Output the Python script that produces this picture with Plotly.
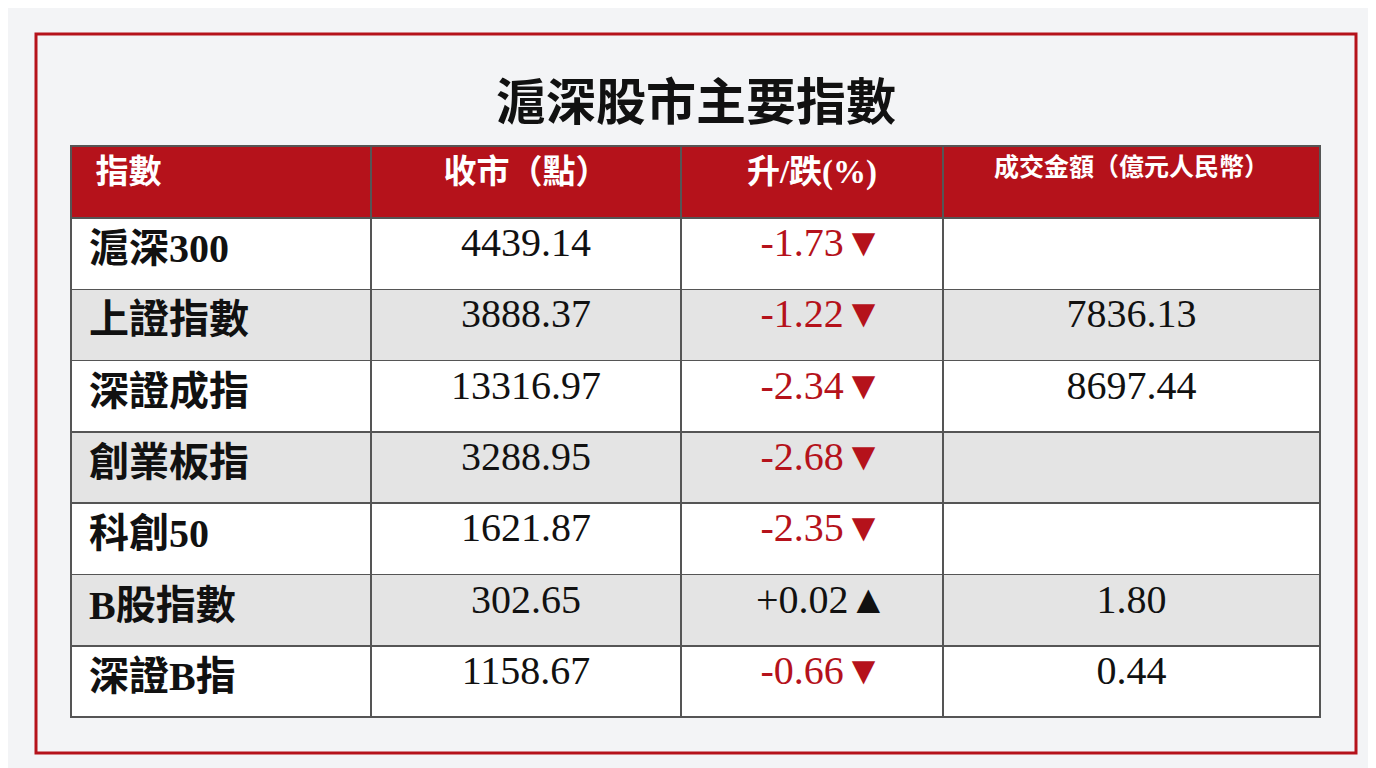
import plotly.graph_objects as go

W, H = 1376, 768

headers = ["指數", "收市（點）", "升/跌(%)", "成交金額（億元人民幣）"]
names = ["滬深300", "上證指數", "深證成指", "創業板指", "科創50", "B股指數", "深證B指"]
closes = ["4439.14", "3888.37", "13316.97", "3288.95", "1621.87", "302.65", "1158.67"]
changes = ["-1.73▼", "-1.22▼", "-2.34▼", "-2.68▼", "-2.35▼", "+0.02▲", "-0.66▼"]
turnover = ["", "7836.13", "8697.44", "", "", "1.80", "0.44"]

RED = "#b5121b"
row_fill = ["#ffffff" if i % 2 == 0 else "#e4e4e4" for i in range(len(names))]
change_color = [RED if c.startswith("-") else "#111111" for c in changes]

def px_x(v):
    return v / W

def px_y(v):
    return 1 - v / H

FONT = "Liberation Serif, Noto Sans CJK TC, serif"

fig = go.Figure(go.Table(
    domain=dict(x=[px_x(63), px_x(1312)], y=[px_y(711), px_y(138)]),
    columnwidth=[300, 310, 262, 377],
    header=dict(
        values=["<b>\u00a0\u00a0" + headers[0] + "</b>"] + ["<b>" + h + "</b>" for h in headers[1:]],
        fill_color=RED, line=dict(color="#555555", width=1.5),
        align=["left", "center", "center", "center"],
        font=dict(family=FONT, size=[33, 33, 33, 25], color="white"),
        height=72,
    ),
    cells=dict(
        values=[["<b>\u00a0" + n + "</b>" for n in names], closes,
                ["\u00a0\u00a0" + c for c in changes], turnover],
        fill_color=[row_fill] * 4,
        line=dict(color="#555555", width=1.5),
        align=["left", "center", "center", "center"],
        font=dict(family=FONT, size=40,
                  color=[["#111111"] * 7, ["#111111"] * 7, change_color, ["#111111"] * 7]),
        height=71.3,
    ),
))

fig.add_annotation(text="<b>滬深股市主要指數</b>", x=0.5, y=px_y(90), xref="paper", yref="paper",
                   yanchor="middle", showarrow=False,
                   font=dict(family="Noto Sans CJK TC, serif", size=50, color="#111111"))
fig.add_shape(type="rect", xref="paper", yref="paper", x0=px_x(28), x1=px_x(1348),
              y0=px_y(745), y1=px_y(26), line=dict(color=RED, width=3))

fig.update_layout(width=W, height=H, margin=dict(l=0, r=0, t=0, b=0),
                  paper_bgcolor="#f3f4f6", plot_bgcolor="#f3f4f6")
fig.write_html("out.html")
